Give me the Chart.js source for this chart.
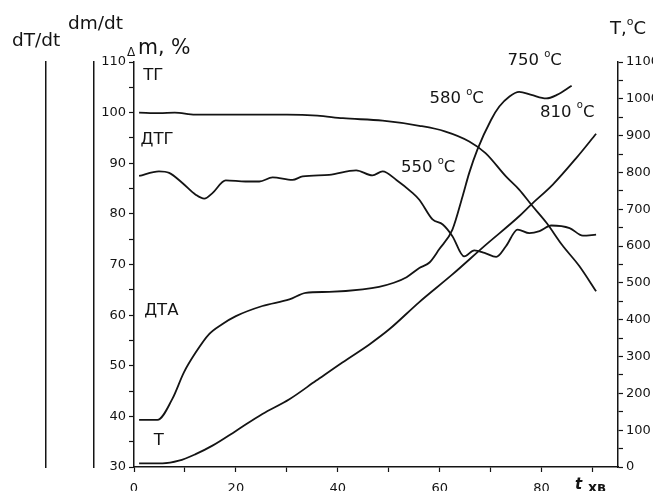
<!DOCTYPE html>
<html>
<head>
<meta charset="utf-8">
<script src="https://cdn.jsdelivr.net/npm/chart.js@4"></script>
<style>
html, body { margin: 0; padding: 0; overflow: hidden; background: #fff; }
#wrap { width: 653px; height: 491px; }
</style>
</head>
<body>
<div id="wrap"><canvas id="thermoChart" width="653" height="491"></canvas></div>
<script>
// time, min
const tgTime = [1, 5, 8, 12, 20, 30, 36, 41, 48.8, 56, 61, 65.8, 69, 73, 75.6, 78, 81, 84, 87.4, 90.7];
// mass, %
const tgMass = [100.0, 99.9, 100.0, 99.6, 99.6, 99.6, 99.4, 98.9, 98.4, 97.4, 96.3, 94.3, 92.0, 87.4, 84.8, 81.8, 78.2, 73.9, 69.7, 64.7];

const dtgTime = [1, 4.9, 6.9, 9.5, 12.1, 13.8, 15.4, 18, 21.9, 24.6, 27.2, 31.1, 33.1, 38.3, 43.6, 46.8, 48.8, 51.5, 54.6, 56, 58.6, 60.6, 62.5, 64.8, 66.8, 68.8, 71.1, 73, 75.3, 77.6, 79.6, 81.9, 85.5, 88.1, 90.7];
const dtgValue = [87.5, 88.4, 88.1, 86.1, 83.8, 83.0, 84.1, 86.6, 86.4, 86.4, 87.2, 86.7, 87.4, 87.7, 88.6, 87.6, 88.4, 86.7, 84.2, 82.8, 78.9, 77.9, 75.6, 71.6, 72.8, 72.3, 71.5, 73.6, 76.9, 76.2, 76.6, 77.7, 77.2, 75.7, 75.9];

const dtaTime = [1, 4.6, 7.5, 9.8, 12.1, 14.7, 17.3, 20, 25.2, 30.5, 33.7, 38.3, 44.9, 48.1, 51, 53.5, 56, 58, 59.9, 62.5, 64.5, 65.8, 67.4, 70.1, 71.7, 73.7, 75.6, 78, 80.9, 83, 85.9];
const dtaValue = [39.3, 39.3, 43.4, 48.7, 52.6, 56.2, 58.2, 59.8, 61.8, 63.1, 64.4, 64.6, 65.1, 65.6, 66.4, 67.5, 69.3, 70.4, 73.0, 76.9, 83.5, 88.1, 92.7, 98.6, 101.2, 103.2, 104.1, 103.5, 102.8, 103.5, 105.3];

// temperature, °C
const tempTime = [1, 5.6, 8.8, 12.1, 15.4, 20, 25.2, 30.5, 35.7, 40.9, 46.2, 50.1, 56, 62.5, 69.1, 75.6, 77.9, 82.2, 86.8, 90.7];
const tempValue = [10, 10, 17, 35, 58, 98, 144, 184, 234, 284, 333, 374, 448, 523, 604, 681, 712, 767, 839, 905];

const curveLabels = ['ТГ', 'ДТГ', 'ДТА', 'Т'];
const peakLabels = ['550', '580', '750', '810'];

const ink = '#141414';
const tickFont = { family: 'DejaVu Sans', size: 13 };

function pts(xs, ys) {
    return xs.map((x, i) => ({ x: x, y: ys[i] }));
}

function curve(label, xs, ys, axis) {
    return {
        label: label,
        data: pts(xs, ys),
        yAxisID: axis,
        borderColor: ink,
        borderWidth: 1.8,
        pointRadius: 0,
        cubicInterpolationMode: 'monotone',
        fill: false
    };
}

// degree sign drawn as raised small "o" like the original figure
function degText(c, txt, x, y, size) {
    c.font = size + 'px "DejaVu Sans"';
    c.fillText(txt, x, y);
    let w = c.measureText(txt).width;
    c.font = Math.round(size * 0.62) + 'px "DejaVu Sans"';
    c.fillText('o', x + w, y - size * 0.5);
    w += c.measureText('o').width;
    c.font = size + 'px "DejaVu Sans"';
    c.fillText('C', x + w, y);
}

const textPlugin = {
    id: 'thermoText',
    afterDraw(chart) {
        const c = chart.ctx;
        const sx = chart.scales.x, sy = chart.scales.y;
        const px = v => sx.getPixelForValue(v);
        const py = v => sy.getPixelForValue(v);
        c.save();
        c.fillStyle = ink;
        c.textBaseline = 'alphabetic';
        c.textAlign = 'left';

        // curve names
        c.font = '16.5px "DejaVu Sans"';
        c.fillText(curveLabels[0], px(1.8), py(106.5));
        c.fillText(curveLabels[1], px(1.3), py(93.9));
        c.fillText(curveLabels[2], px(2), py(60.1));
        c.fillText(curveLabels[3], px(3.9), py(34.3));

        // peak temperatures
        degText(c, peakLabels[0] + ' ', px(52.4), py(88.3), 16.5);
        degText(c, peakLabels[1] + ' ', px(58), py(101.9), 16.5);
        degText(c, peakLabels[2] + ' ', px(73.3), py(109.4), 16.5);
        degText(c, peakLabels[3] + ' ', px(79.7), py(99.2), 16.5);

        // axis titles
        c.font = '18.5px "DejaVu Sans"';
        c.fillText('dT/dt', 12, 46);
        c.fillText('dm/dt', 68, 29);
        c.font = '12px "DejaVu Sans"';
        c.fillText('Δ', 127, 56);
        c.font = '20.5px "DejaVu Sans"';
        c.fillText('m, %', 138, 54);
        degText(c, 'T,', 610, 34, 18);

        c.font = 'italic bold 15px "DejaVu Sans"';
        c.fillText('t', 575, 489);
        c.font = 'bold 14px "DejaVu Sans"';
        c.fillText('хв', 588, 492);
        c.restore();
    }
};

const axisBorder = { display: true, color: ink, width: 1.5 };

new Chart(document.getElementById('thermoChart'), {
    type: 'line',
    data: {
        datasets: [
            curve(curveLabels[0], tgTime, tgMass, 'y'),
            curve(curveLabels[1], dtgTime, dtgValue, 'y'),
            curve(curveLabels[2], dtaTime, dtaValue, 'y'),
            curve(curveLabels[3], tempTime, tempValue, 'yT')
        ]
    },
    options: {
        responsive: false,
        animation: false,
        layout: { padding: { top: 62, left: 0, right: 0, bottom: 0 } },
        plugins: { legend: { display: false }, tooltip: { enabled: false } },
        scales: {
            x: {
                type: 'linear',
                min: 0,
                max: 95,
                ticks: {
                    stepSize: 10,
                    includeBounds: false,
                    autoSkip: false,
                    maxRotation: 0,
                    padding: 9,
                    color: ink,
                    font: tickFont,
                    callback: v => (v % 20 === 0 ? v : '')
                },
                grid: { drawOnChartArea: false, tickLength: 5, color: ink, tickWidth: 1.2 },
                border: axisBorder,
                afterFit: s => { s.height = 24; }
            },
            y: {
                position: 'left',
                weight: 0,
                min: 30,
                max: 110,
                ticks: {
                    stepSize: 5,
                    includeBounds: false,
                    autoSkip: false,
                    padding: 3,
                    color: ink,
                    font: tickFont,
                    callback: v => (v % 10 === 0 ? v : '')
                },
                grid: { drawOnChartArea: false, tickLength: 5, color: ink, tickWidth: 1.2 },
                border: axisBorder,
                afterFit: s => { s.width = 40; }
            },
            yDm: {
                position: 'left',
                weight: 1,
                min: 0,
                max: 1,
                ticks: { display: false },
                grid: { display: false },
                border: axisBorder,
                afterFit: s => { s.width = 48; }
            },
            yDt: {
                position: 'left',
                weight: 2,
                min: 0,
                max: 1,
                ticks: { display: false },
                grid: { display: false },
                border: axisBorder,
                afterFit: s => { s.width = 46; }
            },
            yT: {
                position: 'right',
                min: 0,
                max: 1100,
                ticks: {
                    stepSize: 50,
                    includeBounds: false,
                    autoSkip: false,
                    padding: 3,
                    color: ink,
                    font: tickFont,
                    callback: v => (v % 100 === 0 ? v : '')
                },
                grid: { drawOnChartArea: false, tickLength: 5, color: ink, tickWidth: 1.2 },
                border: axisBorder,
                afterFit: s => { s.width = 35; }
            }
        }
    },
    plugins: [textPlugin]
});
</script>
</body>
</html>
